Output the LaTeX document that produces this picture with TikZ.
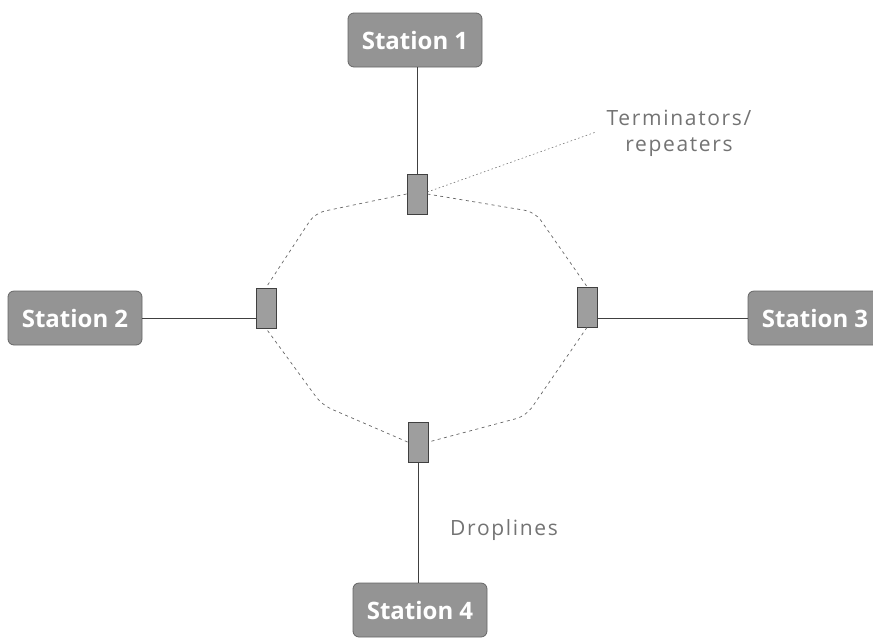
\documentclass[tikz,border=0pt]{standalone}
\usepackage{fontspec}
\setmainfont{Open Sans}
\newfontfamily\labelfont[LetterSpace=8]{Open Sans}
\begin{document}
\begin{tikzpicture}[x=1pt,y=-1pt,
  station/.style={draw=black!60, fill=black!42, rounded corners=6pt, line width=0.8pt,
    minimum width=134pt, minimum height=54pt, inner sep=0pt,
    text=white, font=\fontsize{24}{26}\selectfont\bfseries},
  repeater/.style={draw=black!75, fill=black!38, line width=0.8pt,
    minimum width=20pt, minimum height=40pt, inner sep=0pt},
  drop/.style={draw=black!75, line width=0.8pt},
  ring/.style={draw=black!60, line width=0.7pt, dash pattern=on 3pt off 3.5pt, rounded corners=10pt},
  pointer/.style={draw=black!55, line width=0.6pt, dash pattern=on 1.5pt off 2.5pt},
  caption/.style={text=black!55, font=\labelfont\fontsize{21}{26}\selectfont, align=center, inner sep=0pt}
]
\useasboundingbox (0,0) rectangle (873,638);

% stations
\node[station] (s1) at (415,40) {Station 1};
\node[station] (s2) at (75,318) {Station 2};
\node[station] (s3) at (815,318) {Station 3};
\node[station] (s4) at (420,610) {Station 4};

% terminators / repeaters on the bus
\node[repeater] (r1) at (417,194) {};
\node[repeater] (r2) at (266,308) {};
\node[repeater] (r3) at (587,307) {};
\node[repeater] (r4) at (418,442) {};

% corners of the ring
\coordinate (cnw) at (315,213);
\coordinate (cne) at (535,212);
\coordinate (cse) at (526,416);
\coordinate (csw) at (322,405);

% ring segments between repeaters
\path[ring] (r1.west) -- (cnw) -- (r2.north);
\path[ring] (r1.east) -- (cne) -- (r3.north);
\path[ring] (r3.south) -- (cse) -- (r4.east);
\path[ring] (r4.west) -- (csw) -- (r2.south);

% droplines
\path[drop] (s1.south -| r1.north) -- (r1.north);
\path[drop] (s2.east) -- (s2.east -| r2.west);
\path[drop] (s3.west -| r3.east) -- (s3.west);
\path[drop] (r4.south) -- (r4.south |- s4.north);

% labels
\node[caption, anchor=north] (lt) at (679,110) {Terminators/\\repeaters};
\coordinate (pt) at (596,132);
\path[pointer] (r1.east) ++(0,-2) coordinate (pe) (pe) -- (pt);
\node[caption, anchor=base west] (ld) at (450,535) {Droplines};
\end{tikzpicture}
\end{document}
